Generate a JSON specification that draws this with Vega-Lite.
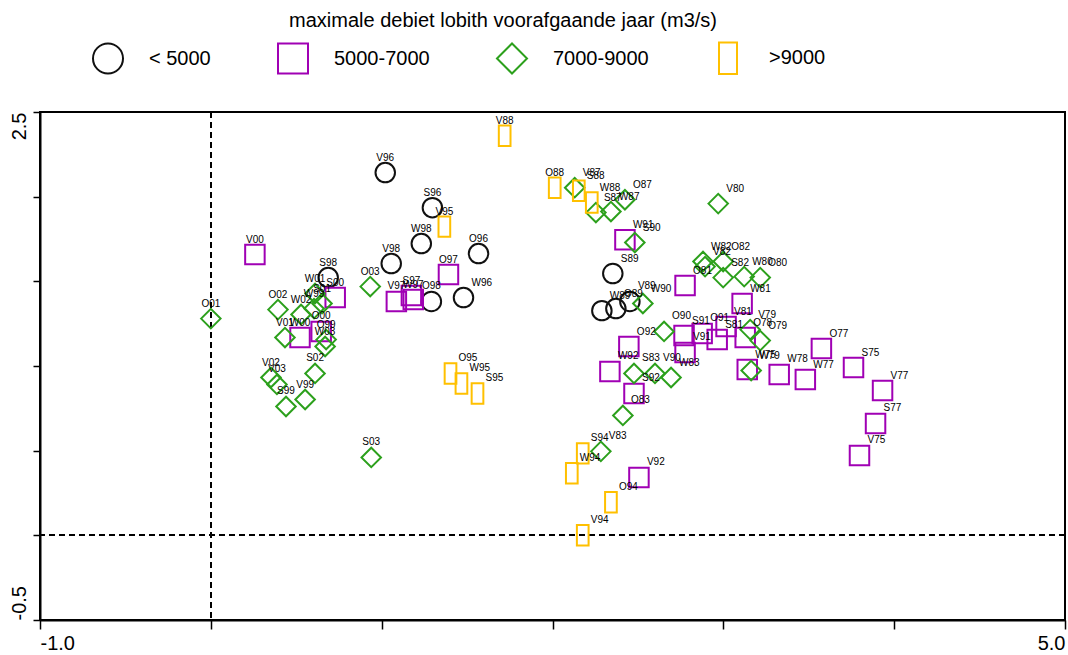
{
  "$schema": "https://vega.github.io/schema/vega-lite/v6.json",
  "width": 1025,
  "height": 508,
  "autosize": "none",
  "padding": {"left": 40, "top": 112, "right": 3, "bottom": 35},
  "config": {
    "font": "Liberation Sans",
    "view": {"stroke": "black", "strokeWidth": 2},
    "axis": {"grid": false, "domainColor": "black", "domainWidth": 2, "tickColor": "black", "tickWidth": 1.5, "labelColor": "black", "labelFont": "Liberation Sans", "labelFontSize": 20, "title": null}
  },
  "title": {"text": "maximale debiet lobith voorafgaande jaar (m3/s)", "anchor": "start", "frame": "group", "dx": 249, "fontSize": 20, "fontWeight": "normal", "font": "Liberation Sans", "color": "black", "offset": 11},
  "data": {"values": [
    {"label": "V96", "x": 1.021, "y": 2.142, "cat": "< 5000"},
    {"label": "S96", "x": 1.297, "y": 1.935, "cat": "< 5000"},
    {"label": "W98", "x": 1.232, "y": 1.723, "cat": "< 5000"},
    {"label": "V98", "x": 1.056, "y": 1.605, "cat": "< 5000"},
    {"label": "O96", "x": 1.567, "y": 1.664, "cat": "< 5000"},
    {"label": "S98", "x": 0.687, "y": 1.522, "cat": "< 5000"},
    {"label": "O98", "x": 1.291, "y": 1.381, "cat": "< 5000"},
    {"label": "W96", "x": 1.479, "y": 1.404, "cat": "< 5000"},
    {"label": "S89", "x": 2.353, "y": 1.546, "cat": "< 5000"},
    {"label": "W89", "x": 2.289, "y": 1.327, "cat": "< 5000"},
    {"label": "O89", "x": 2.371, "y": 1.339, "cat": "< 5000"},
    {"label": "V89", "x": 2.453, "y": 1.381, "cat": "< 5000"},
    {"label": "V00", "x": 0.258, "y": 1.658, "cat": "5000-7000"},
    {"label": "S00", "x": 0.728, "y": 1.404, "cat": "5000-7000"},
    {"label": "W00", "x": 0.522, "y": 1.168, "cat": "5000-7000"},
    {"label": "O00", "x": 0.646, "y": 1.204, "cat": "5000-7000"},
    {"label": "O97", "x": 1.391, "y": 1.54, "cat": "5000-7000"},
    {"label": "V97", "x": 1.086, "y": 1.381, "cat": "5000-7000"},
    {"label": "S97", "x": 1.174, "y": 1.416, "cat": "5000-7000"},
    {"label": "W97", "x": 1.185, "y": 1.392, "cat": "5000-7000"},
    {"label": "W91", "x": 2.424, "y": 1.746, "cat": "5000-7000"},
    {"label": "O81", "x": 2.776, "y": 1.475, "cat": "5000-7000"},
    {"label": "S91", "x": 2.77, "y": 1.18, "cat": "5000-7000"},
    {"label": "V91", "x": 2.776, "y": 1.08, "cat": "5000-7000"},
    {"label": "O91", "x": 2.876, "y": 1.192, "cat": "5000-7000"},
    {"label": "S81", "x": 2.964, "y": 1.156, "cat": "5000-7000"},
    {"label": "V81", "x": 3.016, "y": 1.233, "cat": "5000-7000"},
    {"label": "O78", "x": 3.128, "y": 1.168, "cat": "5000-7000"},
    {"label": "W81", "x": 3.11, "y": 1.369, "cat": "5000-7000"},
    {"label": "W75", "x": 3.14, "y": 0.979, "cat": "5000-7000"},
    {"label": "W78", "x": 3.327, "y": 0.95, "cat": "5000-7000"},
    {"label": "W77", "x": 3.48, "y": 0.92, "cat": "5000-7000"},
    {"label": "O77", "x": 3.574, "y": 1.103, "cat": "5000-7000"},
    {"label": "S75", "x": 3.762, "y": 0.991, "cat": "5000-7000"},
    {"label": "V77", "x": 3.932, "y": 0.855, "cat": "5000-7000"},
    {"label": "S77", "x": 3.891, "y": 0.661, "cat": "5000-7000"},
    {"label": "V75", "x": 3.797, "y": 0.472, "cat": "5000-7000"},
    {"label": "O92", "x": 2.447, "y": 1.115, "cat": "5000-7000"},
    {"label": "W92", "x": 2.336, "y": 0.968, "cat": "5000-7000"},
    {"label": "S92", "x": 2.477, "y": 0.838, "cat": "5000-7000"},
    {"label": "V92", "x": 2.506, "y": 0.342, "cat": "5000-7000"},
    {"label": "O01", "x": 0.0, "y": 1.28, "cat": "7000-9000"},
    {"label": "O02", "x": 0.393, "y": 1.333, "cat": "7000-9000"},
    {"label": "W02", "x": 0.528, "y": 1.304, "cat": "7000-9000"},
    {"label": "V01", "x": 0.434, "y": 1.168, "cat": "7000-9000"},
    {"label": "W01", "x": 0.61, "y": 1.428, "cat": "7000-9000"},
    {"label": "S01", "x": 0.651, "y": 1.369, "cat": "7000-9000"},
    {"label": "W99", "x": 0.604, "y": 1.339, "cat": "7000-9000"},
    {"label": "O99", "x": 0.675, "y": 1.156, "cat": "7000-9000"},
    {"label": "W03", "x": 0.669, "y": 1.115, "cat": "7000-9000"},
    {"label": "V02", "x": 0.352, "y": 0.932, "cat": "7000-9000"},
    {"label": "V03", "x": 0.387, "y": 0.891, "cat": "7000-9000"},
    {"label": "S02", "x": 0.61, "y": 0.956, "cat": "7000-9000"},
    {"label": "V99", "x": 0.552, "y": 0.802, "cat": "7000-9000"},
    {"label": "S99", "x": 0.44, "y": 0.761, "cat": "7000-9000"},
    {"label": "O03", "x": 0.933, "y": 1.469, "cat": "7000-9000"},
    {"label": "S03", "x": 0.939, "y": 0.46, "cat": "7000-9000"},
    {"label": "V87", "x": 2.13, "y": 2.053, "cat": "7000-9000"},
    {"label": "S87", "x": 2.254, "y": 1.906, "cat": "7000-9000"},
    {"label": "W87", "x": 2.342, "y": 1.912, "cat": "7000-9000"},
    {"label": "O87", "x": 2.424, "y": 1.982, "cat": "7000-9000"},
    {"label": "S90", "x": 2.482, "y": 1.729, "cat": "7000-9000"},
    {"label": "W90", "x": 2.529, "y": 1.369, "cat": "7000-9000"},
    {"label": "O90", "x": 2.653, "y": 1.204, "cat": "7000-9000"},
    {"label": "S83", "x": 2.477, "y": 0.956, "cat": "7000-9000"},
    {"label": "V90", "x": 2.6, "y": 0.956, "cat": "7000-9000"},
    {"label": "W83", "x": 2.694, "y": 0.932, "cat": "7000-9000"},
    {"label": "O83", "x": 2.412, "y": 0.708, "cat": "7000-9000"},
    {"label": "V83", "x": 2.283, "y": 0.496, "cat": "7000-9000"},
    {"label": "V80", "x": 2.97, "y": 1.959, "cat": "7000-9000"},
    {"label": "W82", "x": 2.881, "y": 1.617, "cat": "7000-9000"},
    {"label": "V82", "x": 2.893, "y": 1.587, "cat": "7000-9000"},
    {"label": "O82", "x": 2.999, "y": 1.617, "cat": "7000-9000"},
    {"label": "S82", "x": 2.999, "y": 1.522, "cat": "7000-9000"},
    {"label": "W80", "x": 3.122, "y": 1.528, "cat": "7000-9000"},
    {"label": "O80", "x": 3.216, "y": 1.522, "cat": "7000-9000"},
    {"label": "V79", "x": 3.157, "y": 1.215, "cat": "7000-9000"},
    {"label": "O79", "x": 3.216, "y": 1.15, "cat": "7000-9000"},
    {"label": "W79", "x": 3.163, "y": 0.973, "cat": "7000-9000"},
    {"label": "V88", "x": 1.72, "y": 2.36, "cat": ">9000"},
    {"label": "O88", "x": 2.013, "y": 2.053, "cat": ">9000"},
    {"label": "S88", "x": 2.154, "y": 2.035, "cat": ">9000"},
    {"label": "W88", "x": 2.23, "y": 1.965, "cat": ">9000"},
    {"label": "V95", "x": 1.367, "y": 1.823, "cat": ">9000"},
    {"label": "O95", "x": 1.403, "y": 0.956, "cat": ">9000"},
    {"label": "W95", "x": 1.467, "y": 0.897, "cat": ">9000"},
    {"label": "S95", "x": 1.561, "y": 0.838, "cat": ">9000"},
    {"label": "S94", "x": 2.177, "y": 0.484, "cat": ">9000"},
    {"label": "W94", "x": 2.113, "y": 0.366, "cat": ">9000"},
    {"label": "O94", "x": 2.342, "y": 0.195, "cat": ">9000"},
    {"label": "V94", "x": 2.177, "y": 0.0, "cat": ">9000"}
  ]},
  "layer": [
    {
      "mark": {"type": "rule", "strokeDash": [6, 4], "color": "black", "strokeWidth": 1},
      "encoding": {"x": {"datum": 0, "type": "quantitative"}}
    },
    {
      "mark": {"type": "rule", "strokeDash": [6, 4], "color": "black", "strokeWidth": 1},
      "encoding": {"y": {"datum": 0, "type": "quantitative"}}
    },
    {
      "mark": {"type": "point", "filled": false, "strokeWidth": 2, "size": 380, "opacity": 1},
      "encoding": {
        "x": {"field": "x", "type": "quantitative",
          "scale": {"domain": [-1, 5], "nice": false, "zero": false},
          "axis": {"values": [-1, 0, 1, 2, 3, 4, 5], "labelExpr": "datum.value == -1 ? '-1.0' : datum.value == 5 ? '5.0' : ''", "labelFlush": true, "tickSize": 9, "labelPadding": 4}},
        "y": {"field": "y", "type": "quantitative",
          "scale": {"domain": [-0.5, 2.5], "nice": false, "zero": false},
          "axis": {"values": [-0.5, 0, 0.5, 1, 1.5, 2, 2.5], "labelExpr": "datum.value == -0.5 ? '-0.5' : datum.value == 2.5 ? '2.5' : ''", "labelAngle": -90, "labelFlush": false, "labelBaseline": "bottom", "labelAlign": {"condition": {"test": "datum.value == 2.5", "value": "right"}, "value": "left"}, "tickSize": 7, "labelPadding": 4}},
        "shape": {"field": "cat", "type": "nominal",
          "scale": {"domain": ["< 5000", "5000-7000", "7000-9000", ">9000"], "range": ["circle", "square", "diamond", "M-0.6,-1.05H0.6V1.05H-0.6Z"]},
          "legend": {"orient": "none", "legendX": 52, "legendY": -70, "direction": "horizontal", "title": null, "symbolSize": 900, "symbolStrokeWidth": 2, "labelFontSize": 20, "labelFont": "Liberation Sans", "labelColor": "black", "labelOffset": 25, "columnPadding": 63, "padding": 0}},
        "color": {"field": "cat", "type": "nominal",
          "scale": {"domain": ["< 5000", "5000-7000", "7000-9000", ">9000"], "range": ["#111111", "#a000b4", "#2ca01c", "#ffc000"]},
          "legend": {"orient": "none", "legendX": 52, "legendY": -70, "direction": "horizontal", "title": null, "symbolSize": 900, "symbolStrokeWidth": 2, "labelFontSize": 20, "labelFont": "Liberation Sans", "labelColor": "black", "labelOffset": 25, "columnPadding": 63, "padding": 0}}
      }
    },
    {
      "transform": [{"filter": "!(datum.x >= 2.05 || (datum.x > 1.4 && datum.y < 1.45))"}],
      "mark": {"type": "text", "align": "center", "baseline": "middle", "dy": -15, "fontSize": 10, "font": "Liberation Sans", "color": "black"},
      "encoding": {
        "x": {"field": "x", "type": "quantitative"},
        "y": {"field": "y", "type": "quantitative"},
        "text": {"field": "label"}
      }
    },
    {
      "transform": [{"filter": "datum.x >= 2.05 || (datum.x > 1.4 && datum.y < 1.45)"}],
      "mark": {"type": "text", "align": "left", "baseline": "middle", "dx": 8, "dy": -15, "fontSize": 10, "font": "Liberation Sans", "color": "black"},
      "encoding": {
        "x": {"field": "x", "type": "quantitative"},
        "y": {"field": "y", "type": "quantitative"},
        "text": {"field": "label"}
      }
    }
  ]
}
